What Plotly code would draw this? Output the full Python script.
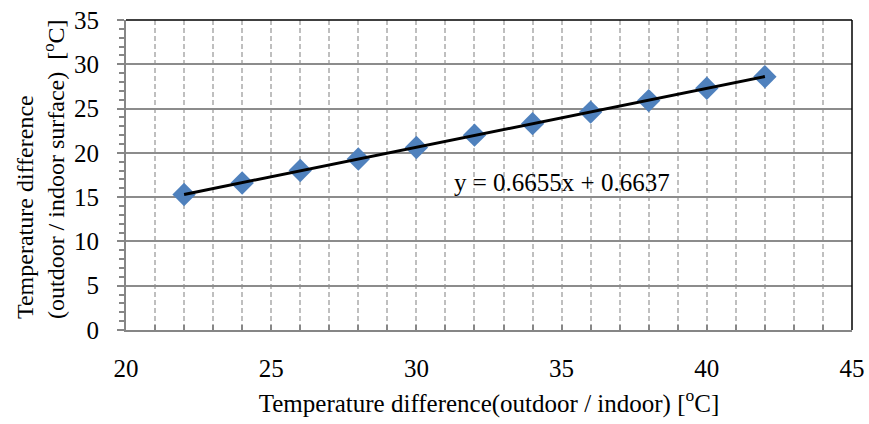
import plotly.graph_objects as go

x_vals = [22, 24, 26, 28, 30, 32, 34, 36, 38, 40, 42]
y_vals = [15.3, 16.6, 18.0, 19.3, 20.6, 22.0, 23.3, 24.6, 25.9, 27.3, 28.6]
slope = 0.6655
intercept = 0.6637
trend_x = [x_vals[0], x_vals[-1]]
trend_y = [slope * v + intercept for v in trend_x]
eq_text = "y = 0.6655x + 0.6637"
x_title = "Temperature difference(outdoor / indoor) [<sup>o</sup>C]"
y_title = "Temperature difference<br>(outdoor / indoor surface)  [<sup>o</sup>C]"

FONT = "Liberation Serif, Times New Roman, serif"

fig = go.Figure()
fig.add_trace(go.Scatter(x=x_vals, y=y_vals, mode="markers",
                         marker=dict(symbol="diamond", size=18, color="#4F81BD"),
                         showlegend=False))
fig.add_trace(go.Scatter(x=trend_x, y=trend_y, mode="lines",
                         line=dict(color="black", width=3), showlegend=False))

fig.add_annotation(x=35.0, y=16.6, xref="x", yref="y", text=eq_text, showarrow=False,
                   font=dict(family=FONT, size=25, color="black"))
fig.add_annotation(x=-0.118, y=0.03, xref="paper", yref="paper", text=y_title,
                   textangle=-90, showarrow=False, xanchor="center", yanchor="bottom",
                   align="left",
                   font=dict(family=FONT, size=24, color="black"))

# plot border top/right
fig.add_shape(type="line", xref="paper", yref="paper", x0=0, x1=1, y0=1, y1=1,
              line=dict(color="black", width=1.5))
fig.add_shape(type="line", xref="paper", yref="paper", x0=1, x1=1, y0=0, y1=1,
              line=dict(color="black", width=1.5))

fig.update_layout(
    width=869, height=424,
    margin=dict(l=126, r=17, t=20, b=94),
    paper_bgcolor="white", plot_bgcolor="white",
    font=dict(family=FONT, size=25, color="black"),
    xaxis=dict(range=[20, 45], dtick=5, tick0=20, showgrid=True, gridcolor="#BFBFBF",
               griddash="5px,3px", gridwidth=1.5, zeroline=False,
               showline=True, linecolor="#868686", linewidth=2,
               ticks="inside", ticklen=5, tickcolor="#868686", tickwidth=1.5,
               ticklabelstandoff=15, automargin=False,
               tickfont=dict(family=FONT, size=25),
               minor=dict(dtick=1, showgrid=True, gridcolor="#BFBFBF", griddash="5px,3px",
                          gridwidth=1.5, ticks="inside", ticklen=5, tickcolor="#868686"),
               title=dict(text=x_title, font=dict(family=FONT, size=25), standoff=13)),
    yaxis=dict(range=[0, 35], dtick=5, tick0=0, showgrid=True, gridcolor="#8C8C8C",
               gridwidth=1.5, zeroline=False,
               showline=True, linecolor="#868686", linewidth=2,
               ticks="outside", ticklen=7, tickcolor="#868686", tickwidth=1.5,
               ticklabelstandoff=13, automargin=False,
               tickfont=dict(family=FONT, size=25),
               minor=dict(dtick=1, showgrid=False, ticks="outside", ticklen=5,
                          tickcolor="#868686"),
               ),
)

fig.write_html("out.html", config={"displayModeBar": False},
               post_script="document.body.style.margin='0';")
